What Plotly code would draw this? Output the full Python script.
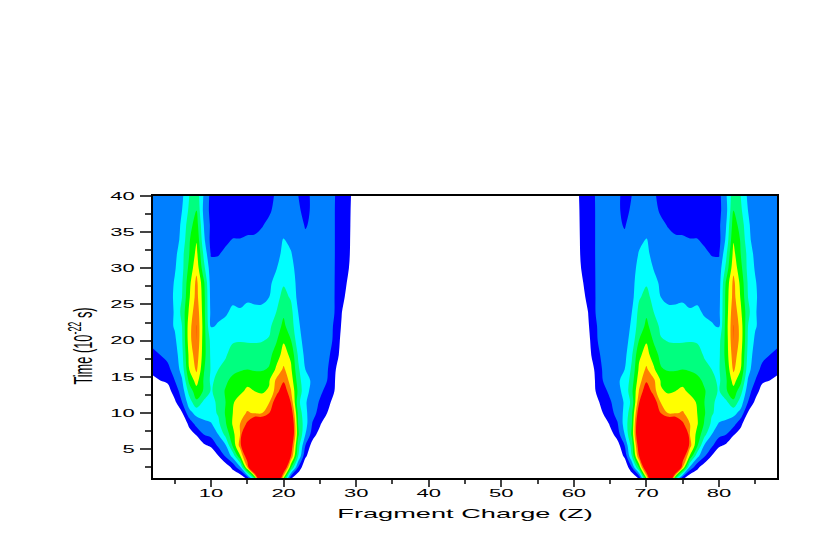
import plotly.graph_objects as go

# Fragment charge Z, left hump. The right hump mirrors it: Z1 + Z2 = 90
charge_left = list(range(2, 31))
charge_right = [90 - c for c in reversed(charge_left)]
charge = charge_left + [31, 59] + charge_right

time = [1, 2.5, 4, 5.5, 7, 8.5, 10, 11.5, 13, 14.5, 16, 18, 20, 22, 24, 26, 28, 30, 32, 34, 36, 38, 40]

# Yield per band, one row per time, columns Z = 2..30
yield_left = [
    [0,0,0,0,0,0,0,0,0,0,0,0,0,1.4,4.6,13,12,12,6,1.2,0,0,0,0,0,0,0,0,0],
    [0,0,0,0,0,0,0,0,0,0,.3,1.3,2.8,7,13,12,12,12,10,5.3,2,0,0,0,0,0,0,0,0],
    [0,0,0,0,0,0,0,0,0,.9,2.1,3.3,5.8,9,12,12,12,12,12,8,4,1.2,0,0,0,0,0,0,0],
    [0,0,0,0,0,0,0,.8,1.2,2.2,2.9,5.2,7.4,12,12,12,12,12,12,9,4.5,2,.5,0,0,0,0,0,0],
    [0,0,0,0,0,.5,1.1,2,2.3,3,4.3,5.7,7,12,12,12,12,12,12,10,5.2,3,1.5,.5,0,0,0,0,0],
    [0,0,0,0,0,1.3,2.4,2.7,2.9,3.8,4.9,6.1,7,8.2,10,10,12,12,12,10,5,3.4,1.9,1.2,0,0,0,0,0],
    [0,0,0,0,.9,2.7,3.3,3.5,3.7,4.1,5.1,6,6.6,7.1,6.9,6.9,7.9,10,12,9,4.8,3.2,2.4,1.6,1,0,0,0,0],
    [0,0,0,.8,2,3.5,4.8,3.8,3.7,4.2,5,5.9,6.4,6.5,6.4,6.4,6.9,8.8,11,7.9,4.3,3.1,2.5,1.9,1.3,.7,0,0,0],
    [0,0,.5,1.5,2.4,4.4,5.6,4.9,3.9,4.4,5.1,5.6,5.8,6.2,6,5.9,6.1,7.5,8.9,7.1,4.8,3.2,2.8,2.2,1.7,1,0,0,0],
    [.8,1,1.2,2,2.9,5.3,6.4,4.9,3.8,4.3,4.8,5.3,5.5,5.7,5.6,5.6,5.9,7.2,7.8,6.6,4.5,3.2,2.9,2.4,2,1.1,0,0,0],
    [1.25,1.4,1.8,2.3,3.4,6,7.2,5.1,3.9,4,4.3,4.7,4.9,5,4.9,4.9,5.1,6.2,7.2,6.2,4.2,3,2.8,2.5,2.1,1.2,.2,0,0],
    [1.75,2,2.2,2.5,3.7,6.3,7.6,5.4,3.8,3.7,3.9,4.4,4.5,4.6,4.5,4.5,4.7,5.5,6.4,5.8,3.9,2.7,2.6,2.45,2.15,1.75,.5,0,0],
    [2.3,2.4,2.6,2.8,3.9,6.6,8.02,5.4,3.7,3.5,3.7,3.9,3.95,3.9,3.9,3.95,4.1,4.9,5.9,5.05,3.4,2.6,2.5,2.4,2.25,1.9,.7,0,0],
    [2.3,2.4,2.6,3.1,4,6.6,8.02,5.5,2.9,3.1,3.3,3.5,3.5,3.6,3.5,3.5,3.75,4.6,5.2,4.5,3.2,2.4,2.4,2.3,2.2,1.95,.9,0,0],
    [2.3,2.35,2.5,3.1,4.3,6.2,7.8,5.4,2.7,2.75,2.85,3.2,3.1,3.25,3.2,3.2,3.4,4,4.85,4.3,3,2.3,2.3,2.25,2.2,2.01,1.05,0,0],
    [2.2,2.25,2.4,3.2,4,5.9,7.4,5.4,2.6,2.55,2.65,2.75,2.7,2.85,2.8,2.8,3,3.7,4.3,3.9,2.7,2.25,2.2,2.2,2.1,2.01,1.5,.3,0],
    [2.2,2.2,2.4,3.1,3.9,5.7,7.3,5.2,2.5,2.4,2.5,2.55,2.5,2.6,2.6,2.6,2.8,3.35,3.9,3.7,2.6,2.2,2.2,2.15,2.1,2.01,1.7,.7,0],
    [2.15,2.15,2.3,2.9,3.7,5.3,6.7,4.3,2.4,2.3,2.35,2.4,2.35,2.4,2.4,2.4,2.55,2.95,3.65,3.4,2.5,2.15,2.15,2.1,2.1,2.01,1.8,1,0],
    [2.1,2.1,2.2,2.7,3.7,5,6.3,3.8,1.9,1.95,2.15,2.25,2.25,2.3,2.3,2.35,2.4,2.6,3.3,3.1,2.3,2.1,2.1,2.1,2.05,2.01,1.85,1.15,0],
    [2.1,2.1,2.15,2.5,3.3,4.9,5.9,3.2,1.7,1.75,1.85,2.03,2.02,2.1,2.1,2.2,2.3,2.5,3.05,2.7,2.15,2.05,2.05,2.05,2.05,2.01,1.85,1.2,0],
    [2.05,2.05,2.1,2.4,3.2,4.6,5.5,3,1.8,1.6,1.6,1.6,1.7,1.75,1.8,1.95,2.15,2.35,2.6,2.5,2.1,1.98,2.05,2.05,2.05,2.01,1.85,1.25,0],
    [2.05,2.05,2.1,2.3,3,4.2,5,2.7,1.7,1.5,1.5,1.5,1.55,1.6,1.65,1.75,1.9,2.2,2.3,2.25,2.08,1.85,2.1,2.05,2.05,2.01,1.85,1.3,0],
    [2.05,2.05,2.1,2.3,2.8,4,4.6,2.9,1.7,1.4,1.4,1.4,1.45,1.5,1.55,1.6,1.8,2.1,2.2,2.2,2.01,1.7,2.2,2.1,2.05,2.01,1.9,1.4,0],
]

x_ticks = [10, 20, 30, 40, 50, 60, 70, 80]
y_ticks = [5, 10, 15, 20, 25, 30, 35, 40]
band_colors = ['#ffffff', '#0000ff', '#007fff', '#00ffff', '#00ff7f',
               '#00ff00', '#ffff00', '#ff7f00', '#ff0000']

z = [row + [0, 0] + row[::-1] for row in yield_left]

# stepped colour scale, one flat stretch per band
colorscale = []
for i, c in enumerate(band_colors):
    colorscale.append([i / len(band_colors), c])
    colorscale.append([(i + 1) / len(band_colors), c])

fig = go.Figure(go.Contour(
    x=charge, y=time, z=z,
    autocontour=False,
    contours=dict(start=1, end=8, size=1, coloring='fill', showlines=False),
    line_width=0,
    colorscale=colorscale,
    showscale=False,
    hoverinfo='skip',
))

fig.update_layout(
    width=817, height=545,
    margin=dict(l=153, r=40, t=196, b=67, pad=0),
    paper_bgcolor='white', plot_bgcolor='white',
    font=dict(family='Liberation Sans', color='black', size=11),
)
fig.update_xaxes(
    range=[2, 88], tickvals=x_ticks,
    ticks='outside', ticklen=7, tickwidth=1.5, ticklabelstandoff=-3,
    showline=True, linewidth=2, linecolor='black', mirror=True, showgrid=False, zeroline=False,
    minor=dict(tick0=0, dtick=5, ticks='outside', ticklen=4, tickwidth=1.5, showgrid=False),
    title=dict(text='Fragment Charge (Z)', font=dict(size=13.6), standoff=10),
)
fig.update_yaxes(
    range=[1, 40], tickvals=y_ticks,
    ticks='outside', ticklen=11, tickwidth=1.5, ticklabelstandoff=3,
    showline=True, linewidth=2, linecolor='black', mirror=True, showgrid=False, zeroline=False,
    minor=dict(tick0=0, dtick=2.5, ticks='outside', ticklen=6, tickwidth=1.5, showgrid=False),
    title=dict(text='Time (10<sup>-22</sup> s)', font=dict(size=12.8), standoff=32),
)

# the original lettering is twice as wide as it is tall, plotly has no font stretch
stretch_text = """
document.body.style.margin = '0';
document.querySelectorAll('.xtick text, .ytick text, .xtitle, .ytitle').forEach(function (t) {
    var box = t.getBoundingClientRect();
    var cx = t.closest('.ytick') ? box.right : (box.left + box.right) / 2;
    var dy = t.classList.contains('ytitle') ? 9 : 0;
    var old = t.getAttribute('transform') || '';
    t.setAttribute('transform', 'translate(' + cx + ' ' + dy + ') scale(2 1) translate(' + (-cx) + ' 0) ' + old);
});
"""

fig.write_html("out.html", config=dict(displayModeBar=False), post_script=stretch_text)
